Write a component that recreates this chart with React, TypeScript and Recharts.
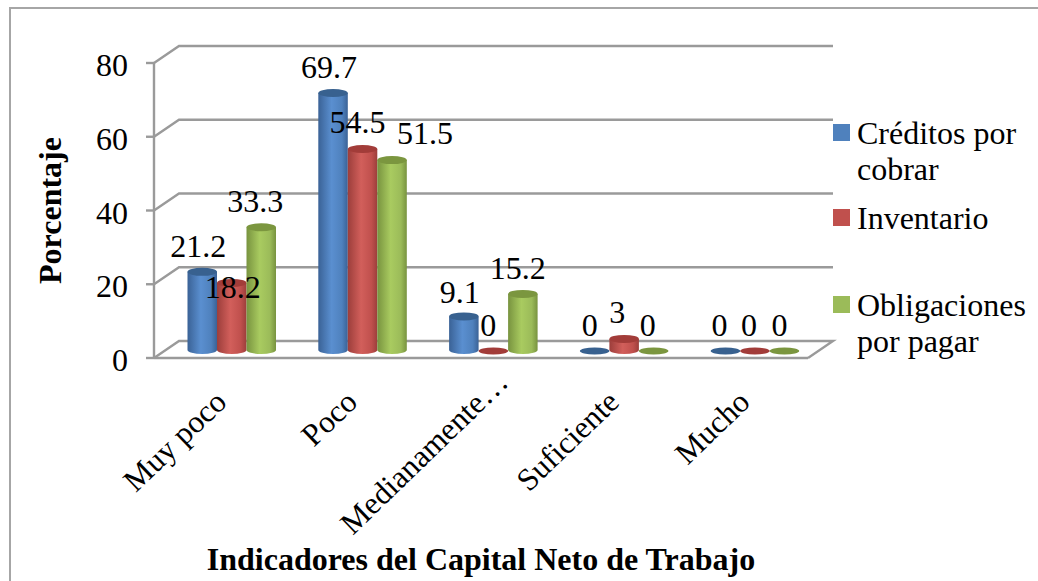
import React from "react";
import { BarChart, Bar, XAxis, YAxis, CartesianGrid, Legend, LabelList } from "recharts";

const categories = ["Muy poco", "Poco", "Medianamente…", "Suficiente", "Mucho"];
const creditos = [21.2, 69.7, 9.1, 0, 0];
const inventario = [18.2, 54.5, 0, 3, 0];
const obligaciones = [33.3, 51.5, 15.2, 0, 0];
const yTicks = [0, 20, 40, 60, 80];

const rows = categories.map((name, i) => ({
  name,
  creditos: creditos[i],
  inventario: inventario[i],
  obligaciones: obligaciones[i],
}));

const FONT = '"Liberation Serif", "Times New Roman", serif';
const GRID = "#9a9a9a";
// 3D projection of the chart: depth of the back wall and of the bars
const WALL_DX = 25;
const WALL_DY = -17;
const BAR_DX = 12.5;
const BAR_DY = -8;

const PALETTE = {
  creditos: { flat: "#4f81bd", edge: "#3a6296", mid: "#5a8fd0", cap: "#38618f" },
  inventario: { flat: "#c0504d", edge: "#9c3e3b", mid: "#d25f5b", cap: "#a23c39" },
  obligaciones: { flat: "#9bbb59", edge: "#78933f", mid: "#a9cb60", cap: "#7b963f" },
};

// hand-placed label nudges from the reference: [dx, baseline dy] from the top of the bar
const NUDGE = {
  creditos: [[-4, -15], [-4, -15], [-4, -13], [-5, -14], [-6, -14]],
  inventario: [[1, 15], [-5, -16], [-5, -14], [-7, -16], [-6, -14]],
  obligaciones: [[-6, -15], [33, -16], [-5, -15], [-6, -14], [-5, -14]],
};

const Cylinder = (props: any) => {
  const { x, y, width, height, seriesKey } = props;
  const c = PALETTE[seriesKey as keyof typeof PALETTE];
  const cx = x + BAR_DX;
  const top = y + BAR_DY;
  const bottom = top + height;
  const rx = width / 2;
  const ry = 4;
  if (height < 0.5) {
    return <ellipse cx={cx + rx} cy={bottom + 1} rx={rx} ry={3.5} fill={c.cap} />;
  }
  return (
    <g>
      <path
        d={`M${cx},${top} L${cx},${bottom} A${rx},${ry} 0 0 0 ${cx + width},${bottom} L${cx + width},${top} Z`}
        fill={`url(#grad-${seriesKey})`}
      />
      <ellipse cx={cx + rx} cy={top} rx={rx} ry={ry} fill={c.cap} />
    </g>
  );
};

const gridLine = (props: any) => {
  const { x1, x2, y1, key, index } = props;
  const isFloor = Math.abs(y1 - 358) < 1;
  const d = `M${x1},${y1} L${x1 + WALL_DX},${y1 + WALL_DY} L${x2 + WALL_DX},${y1 + WALL_DY}` +
    (isFloor ? ` L${x2},${y1}` : "");
  return <path key={key ?? index} d={d} fill="none" stroke={GRID} strokeWidth={2.4} />;
};

const SlantTick = (props: any) => {
  const { x, y, payload } = props;
  // the truncated label sits further along its slant in the reference
  const along = String(payload.value).endsWith("…") ? 20 : 0;
  const ax = x + 9 + along;
  const ay = y + 38 - along;
  return (
    <text
      x={ax}
      y={ay}
      textAnchor="end"
      transform={`rotate(-44 ${ax} ${ay})`}
      fontFamily={FONT}
      fontSize={31.5}
      fill="#000"
    >
      {payload.value}
    </text>
  );
};

const ValueTick = (props: any) => {
  const { x, y, payload } = props;
  return (
    <text x={x} y={y + 13} textAnchor="end" fontFamily={FONT} fontSize={32} fill="#000">
      {payload.value}
    </text>
  );
};

const makeLabel = (seriesKey: keyof typeof NUDGE) => (props: any) => {
  const { x, y, width, index, value } = props;
  const [dx, dy] = NUDGE[seriesKey][index];
  return (
    <text
      x={x + width / 2 + BAR_DX + dx}
      y={y + BAR_DY + dy}
      textAnchor="middle"
      fontFamily={FONT}
      fontSize={32}
      fill="#000"
    >
      {value}
    </text>
  );
};

const legendEntries = [
  { key: "creditos", lines: ["Créditos por", "cobrar"], height: 85 },
  { key: "inventario", lines: ["Inventario"], height: 87 },
  { key: "obligaciones", lines: ["Obligaciones", "por pagar"], height: 74 },
];

const LegendBox = () => (
  <div style={{ fontFamily: FONT, fontSize: 32, lineHeight: "36px", color: "#000" }}>
    {legendEntries.map((e) => (
      <div key={e.key} style={{ height: e.height, position: "relative", paddingLeft: 24, whiteSpace: "nowrap" }}>
        <span
          style={{
            position: "absolute",
            left: 0,
            top: 9,
            width: 17,
            height: 17,
            background: PALETTE[e.key as keyof typeof PALETTE].flat,
          }}
        />
        {e.lines.map((l) => (
          <div key={l}>{l}</div>
        ))}
      </div>
    ))}
  </div>
);

const series = [
  { key: "creditos", name: "Créditos por cobrar" },
  { key: "inventario", name: "Inventario" },
  { key: "obligaciones", name: "Obligaciones por pagar" },
] as const;

export default function App() {
  return (
    <div style={{ position: "absolute", left: 0, top: 0, width: 1038, height: 581, overflow: "hidden", background: "#fff" }}>
      <div
        style={{
          position: "absolute",
          left: 9,
          top: 7,
          width: 1100,
          height: 700,
          border: "2px solid #a6a6a6",
          boxSizing: "border-box",
        }}
      />
      <BarChart
        width={1038}
        height={581}
        data={rows}
        margin={{ top: 63, right: 230, bottom: 0, left: 0 }}
        barSize={29.5}
        barGap={0}
        style={{ position: "absolute", left: 0, top: 0 }}
      >
        <defs>
          {series.map((s) => (
            <linearGradient key={s.key} id={`grad-${s.key}`} x1="0" y1="0" x2="1" y2="0">
              <stop offset="0%" stopColor={PALETTE[s.key].edge} />
              <stop offset="45%" stopColor={PALETTE[s.key].mid} />
              <stop offset="80%" stopColor={PALETTE[s.key].flat} />
              <stop offset="100%" stopColor={PALETTE[s.key].edge} />
            </linearGradient>
          ))}
        </defs>
        <CartesianGrid vertical={false} horizontal={gridLine} />
        <XAxis
          dataKey="name"
          height={223}
          interval={0}
          tickLine={false}
          axisLine={{ stroke: GRID, strokeWidth: 2.4 }}
          tick={<SlantTick />}
          label={{
            value: "Indicadores del Capital Neto de Trabajo",
            position: "center",
            dy: 89,
            style: { fontFamily: FONT, fontSize: 32, fontWeight: 700, fill: "#000" },
          }}
        />
        <YAxis
          width={154}
          domain={[0, 80]}
          ticks={yTicks}
          interval={0}
          tickSize={8}
          tickMargin={18}
          tickLine={{ stroke: GRID, strokeWidth: 2.4 }}
          axisLine={{ stroke: GRID, strokeWidth: 2.4 }}
          tick={<ValueTick />}
          label={{
            value: "Porcentaje",
            angle: -90,
            position: "center",
            dx: -27,
            style: { fontFamily: FONT, fontSize: 32, fontWeight: 700, fill: "#000", textAnchor: "middle" },
          }}
        />
        <Legend
          layout="vertical"
          align="center"
          verticalAlign="middle"
          wrapperStyle={{ left: 833, top: 115, width: 205 }}
          content={<LegendBox />}
        />
        {series.map((s) => (
          <Bar
            key={s.key}
            dataKey={s.key}
            name={s.name}
            fill={PALETTE[s.key].flat}
            isAnimationActive={false}
            shape={(p: any) => <Cylinder {...p} seriesKey={s.key} />}
          >
            <LabelList dataKey={s.key} content={makeLabel(s.key)} />
          </Bar>
        ))}
      </BarChart>
    </div>
  );
}
